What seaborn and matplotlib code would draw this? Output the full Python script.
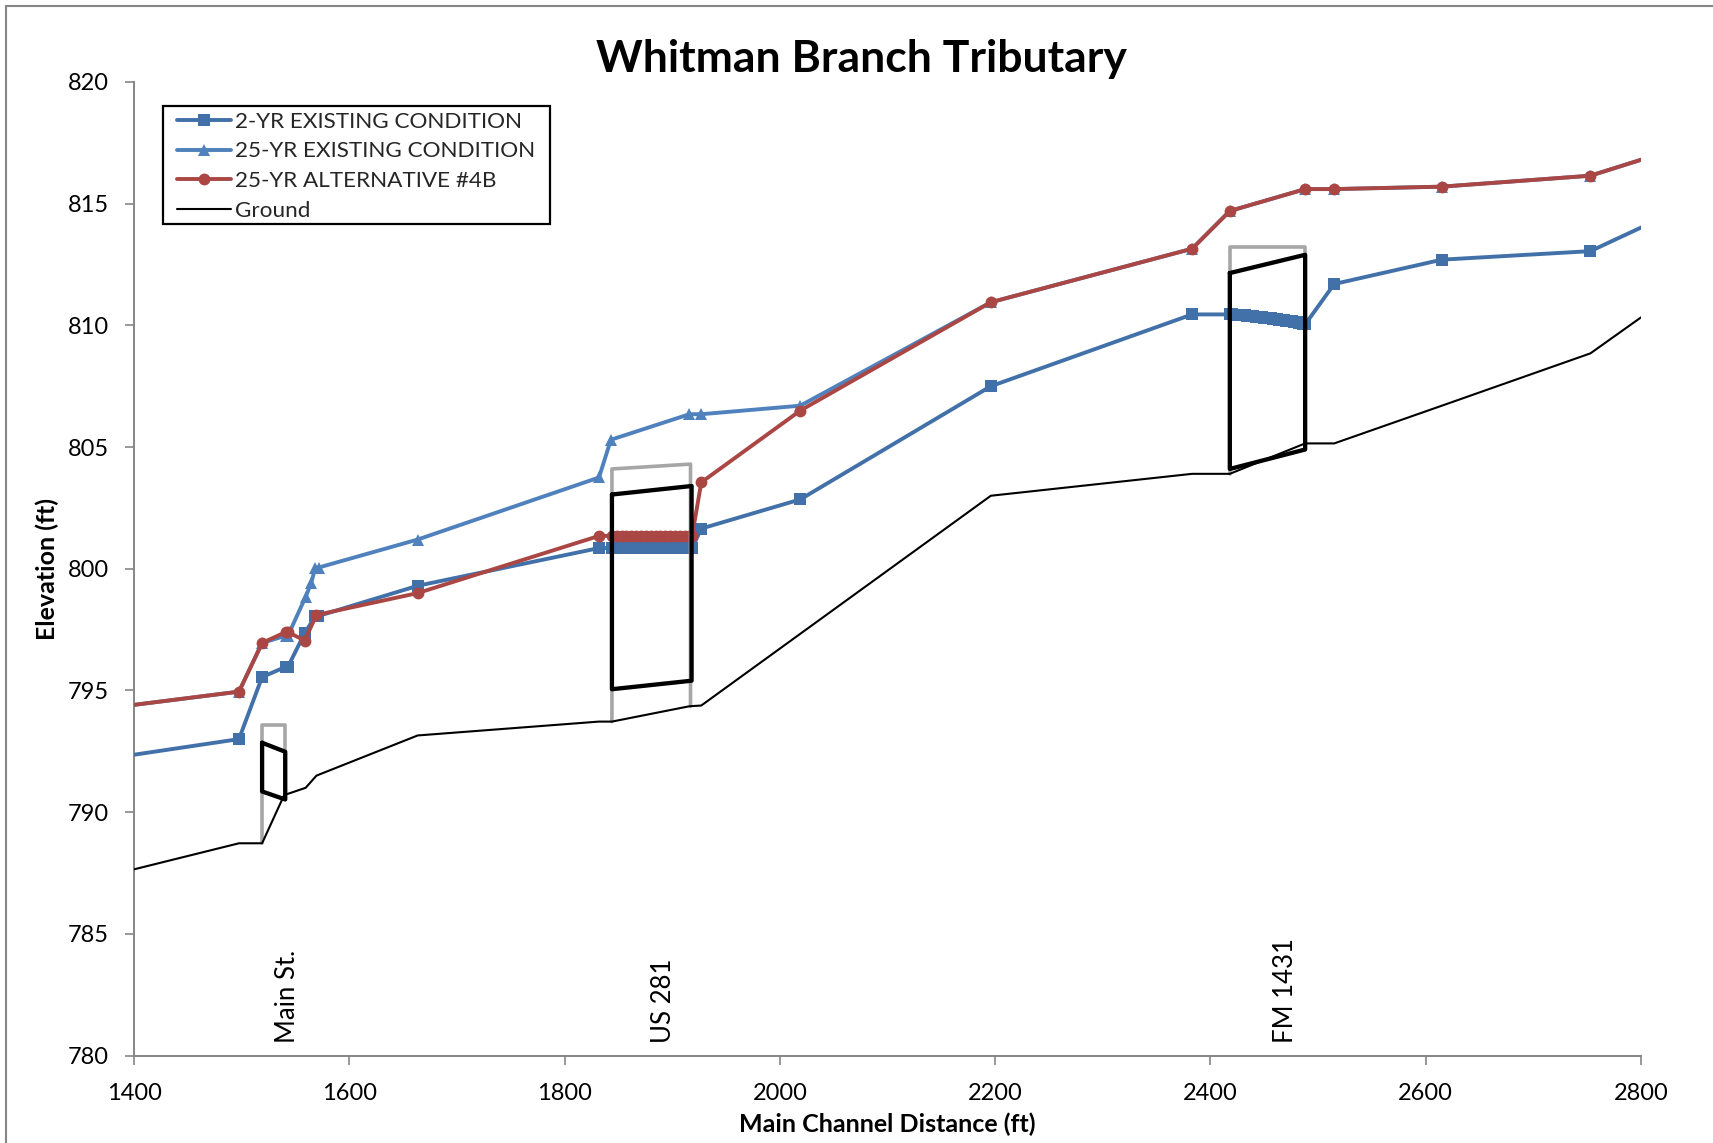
import matplotlib
matplotlib.use("Agg")
import matplotlib.pyplot as plt
from matplotlib.lines import Line2D
from matplotlib.patches import Rectangle
from matplotlib.legend_handler import HandlerLine2D
import seaborn as sns
import pandas as pd

TITLE = "Whitman Branch Tributary"
XLABEL = "Main Channel Distance (ft)"
YLABEL = "Elevation (ft)"

x_2yr = [1300, 1497.5, 1519, 1541, 1543, 1558.5, 1568.5, 1570.5, 1663.5, 1832,
         1844, 1848.5, 1853, 1857.5, 1862, 1866.5, 1871, 1875.5, 1880, 1884.5, 1889, 1893.5, 1898, 1902.5, 1907, 1911.5, 1916, 1918.5,
         1927, 2019, 2196, 2383,
         2418, 2420, 2422, 2424, 2426, 2428, 2430, 2432, 2434, 2436, 2438, 2440, 2442, 2444, 2446, 2448, 2450, 2452,
         2454, 2456, 2458, 2460, 2462, 2464, 2466, 2468, 2470, 2472, 2474, 2476, 2478, 2480, 2482, 2484, 2486, 2488,
         2515, 2615, 2753, 2850]
y_2yr = [791.7, 793.0, 795.55, 795.97, 795.97, 797.35, 798.05, 798.05, 799.3, 800.85,
         800.85, 800.85, 800.85, 800.85, 800.85, 800.85, 800.85, 800.85, 800.85, 800.85, 800.85, 800.85, 800.85, 800.85, 800.85, 800.85, 800.85, 800.85,
         801.65, 802.85, 807.5, 810.45,
         810.45, 810.45, 810.44, 810.44, 810.43, 810.42, 810.42, 810.41, 810.40, 810.39, 810.38, 810.37, 810.36, 810.35, 810.34, 810.33, 810.32, 810.31,
         810.30, 810.29, 810.28, 810.27, 810.26, 810.24, 810.23, 810.22, 810.20, 810.19, 810.17, 810.16, 810.14, 810.12, 810.10, 810.08, 810.06, 810.04,
         811.7, 812.7, 813.05, 815.05]

x_25yr = [1300, 1497.5, 1519, 1541, 1543, 1559.5, 1564.5, 1568.5, 1571.5, 1663.5, 1832, 1843, 1916, 1927,
          2019, 2196, 2383, 2418, 2488, 2515, 2615, 2753, 2850]
y_25yr = [793.85, 794.95, 796.95, 797.25, 797.25, 798.85, 799.4, 800.05, 800.05, 801.2, 803.75, 805.3, 806.35, 806.35,
          806.7, 810.95, 813.15, 814.7, 815.6, 815.6, 815.7, 816.15, 817.5]

x_alt = [1300, 1497.5, 1519, 1541, 1543, 1558.5, 1569.5, 1663.5, 1832,
         1844, 1848.5, 1853, 1857.5, 1862, 1866.5, 1871, 1875.5, 1880, 1884.5, 1889, 1893.5, 1898, 1902.5, 1907, 1911.5, 1916, 1918.5,
         1927, 2019, 2196, 2383, 2418, 2488, 2515, 2615, 2753, 2850]
y_alt = [793.85, 794.95, 796.95, 797.4, 797.4, 797.05, 798.1, 799.0, 801.35,
         801.35, 801.35, 801.35, 801.35, 801.35, 801.35, 801.35, 801.35, 801.35, 801.35, 801.35, 801.35, 801.35, 801.35, 801.35, 801.35, 801.35, 801.35,
         803.55, 806.5, 810.95, 813.15, 814.7, 815.6, 815.6, 815.7, 816.15, 817.5]

x_ground = [1300, 1497.5, 1519, 1539.5, 1559.5, 1569.5, 1663.5, 1832, 1844, 1916, 1927, 2196, 2383, 2418, 2488, 2515, 2615, 2753, 2850]
y_ground = [786.55, 788.72, 788.72, 790.7, 791.0, 791.5, 793.15, 793.72, 793.72, 794.35, 794.38, 803.0, 803.9, 803.9, 805.15, 805.15, 806.7, 808.85, 811.9]

main_x_gray = [1519, 1519, 1540.5, 1540.5]
main_y_gray = [788.72, 793.6, 793.6, 790.7]
us_x_gray = [1844, 1844, 1917, 1917]
us_y_gray = [793.72, 804.1, 804.3, 794.35]
fm_x_gray = [2418, 2418, 2488, 2488]
fm_y_gray = [803.9, 813.2, 813.2, 805.15]

main_x_deck = [1519, 1540.5, 1540.5, 1519, 1519]
main_y_deck = [792.85, 792.48, 790.52, 790.85, 792.85]
us_x_deck = [1844, 1918, 1918, 1844, 1844]
us_y_deck = [803.05, 803.4, 795.4, 795.05, 803.05]
fm_x_deck = [2418, 2488, 2488, 2418, 2418]
fm_y_deck = [812.15, 812.9, 804.9, 804.1, 812.15]

bridge_names = ["Main St.", "US 281", "FM 1431"]
bridge_x = [1543, 1892, 2470]
bridge_y = [780.5, 780.5, 780.5]

x_ticks = [1400, 1600, 1800, 2000, 2200, 2400, 2600, 2800]
y_ticks = [780, 785, 790, 795, 800, 805, 810, 815, 820]

C_2YR = "#4270A8"
C_25YR = "#4F81BD"
C_ALT = "#AA4643"
C_AXIS = "#868686"
C_GRAY = "#A6A6A6"

sns.set_theme(style="white")
plt.rcParams["font.family"] = ["Lato", "DejaVu Sans"]

W, H = 1713, 1143
fig = plt.figure(figsize=(W / 100, H / 100), dpi=100, facecolor="white")
L, R, T, B = 134, 1641, 82, 1055.5
ax = fig.add_axes([L / W, 1 - B / H, (R - L) / W, (B - T) / H])


def draw(x, y, **kw):
    sns.lineplot(data=pd.DataFrame({"x": x, "y": y}), x="x", y="y", sort=False,
                 estimator=None, errorbar=None, legend=False, ax=ax, **kw)


LW = 2.8
draw(x_2yr, y_2yr, color=C_2YR, linewidth=LW, marker="s", markersize=8, markeredgewidth=0, zorder=3)
draw(x_25yr, y_25yr, color=C_25YR, linewidth=LW, marker="^", markersize=9, markeredgewidth=0, zorder=4)
draw(x_alt, y_alt, color=C_ALT, linewidth=LW, marker="o", markersize=8.5, markeredgewidth=0, zorder=5)
draw(x_ground, y_ground, color="black", linewidth=1.5, zorder=6)

for gx, gy in [(main_x_gray, main_y_gray), (us_x_gray, us_y_gray), (fm_x_gray, fm_y_gray)]:
    draw(gx, gy, color=C_GRAY, linewidth=2.6, zorder=5.5)
for dx, dy in [(main_x_deck, main_y_deck), (us_x_deck, us_y_deck), (fm_x_deck, fm_y_deck)]:
    draw(dx, dy, color="black", linewidth=3.1, zorder=7)

for name, bx, by in zip(bridge_names, bridge_x, bridge_y):
    ax.text(bx, by, name, rotation=90, ha="center", va="bottom", fontsize=18.5, color="black")

ax.set_xlim(1400, 2800)
ax.set_ylim(780, 820)
ax.set_xticks(x_ticks)
ax.set_yticks(y_ticks)
ax.grid(False)
ax.set_facecolor("none")
for s in ["top", "right"]:
    ax.spines[s].set_visible(False)
for s in ["left", "bottom"]:
    ax.spines[s].set_color(C_AXIS)
    ax.spines[s].set_linewidth(1.4)
ax.tick_params(axis="both", direction="out", length=6.5, width=1.2, color=C_AXIS,
               labelsize=17, labelcolor="black", bottom=True, left=True)
ax.tick_params(axis="x", pad=13)
ax.tick_params(axis="y", pad=11.5)
ax.set_xlabel(XLABEL, fontsize=18, fontweight="bold", color="black", labelpad=6.5)
ax.set_ylabel(YLABEL, fontsize=18, fontweight="bold", color="black", labelpad=6)
fig.text(861 / W, 1 - 59 / H, TITLE, fontsize=32, fontweight="bold", color="black", ha="center", va="center")

handles = [
    Line2D([], [], color=C_2YR, lw=LW, marker="s", ms=8, mew=0),
    Line2D([], [], color=C_25YR, lw=LW, marker="^", ms=9, mew=0),
    Line2D([], [], color=C_ALT, lw=LW, marker="o", ms=8.5, mew=0),
    Line2D([], [], color="black", lw=1.5),
]
labels = ["2-YR EXISTING CONDITION", "25-YR EXISTING CONDITION", "25-YR ALTERNATIVE #4B", "Ground"]
ax.add_patch(Rectangle((163 / W, 1 - 224 / H), (550 - 163) / W, (224 - 106) / H, transform=fig.transFigure,
                       facecolor="white", edgecolor="black", linewidth=1.6, clip_on=False, zorder=9))
leg = ax.legend(handles, labels, loc="upper left", bbox_to_anchor=((163 - L) / (R - L), 1 - (111.5 - T) / (B - T)),
                bbox_transform=ax.transAxes, fontsize=16.2, frameon=False, borderaxespad=0, borderpad=0,
                labelspacing=0.44, handlelength=3.0, handletextpad=0.2,
                handler_map={Line2D: HandlerLine2D(xpad=0.6)})
leg.set_zorder(10)

fig.add_artist(Line2D([6 / W, 6 / W], [0, 1 - 6 / H], color=C_AXIS, lw=1.5, transform=fig.transFigure))
fig.add_artist(Line2D([6 / W, 1], [1 - 6 / H, 1 - 6 / H], color=C_AXIS, lw=1.5, transform=fig.transFigure))

fig.savefig("out.png", dpi=100, facecolor="white")
